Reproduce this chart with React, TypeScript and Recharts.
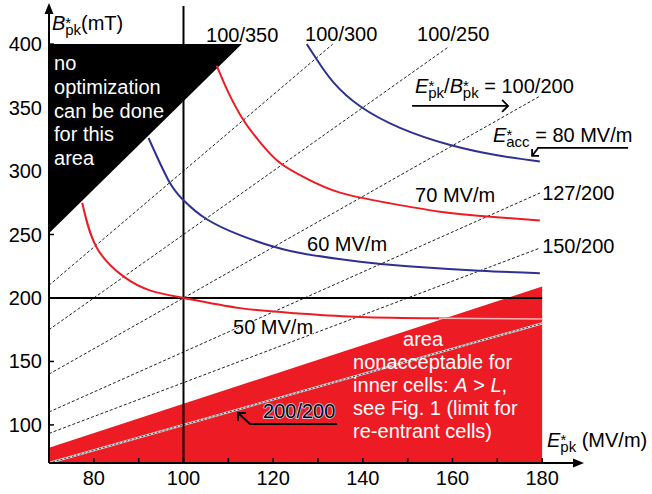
import React from 'react';
import { ComposedChart, XAxis, YAxis, Line, Area, ReferenceLine, ReferenceDot } from 'recharts';

const FONT = '"Liberation Sans", Arial, Helvetica, sans-serif';
const RED = '#ed1c24';
const BLUE = '#2e3192';

// axis ticks
const xTicks = [80, 90, 100, 110, 120, 130, 140, 150, 160, 170, 180];
const yTicks = [100, 150, 200, 250, 300, 350, 400];

// E*acc curves (x = E*pk in MV/m, y = B*pk in mT)
const curve50 = [
  { x: 77.4, y: 275 }, { x: 80.6, y: 240 }, { x: 86.6, y: 217 }, { x: 92.5, y: 206 },
  { x: 100, y: 200 }, { x: 112.6, y: 192 }, { x: 125, y: 188 }, { x: 139.4, y: 185 },
  { x: 157, y: 184 }, { x: 180, y: 183.4 },
];
const curve60 = [
  { x: 92.2, y: 326 }, { x: 96.6, y: 293 }, { x: 100, y: 277 }, { x: 105.2, y: 262 },
  { x: 112.6, y: 249.5 }, { x: 120, y: 240.5 }, { x: 127.5, y: 234.5 }, { x: 139.4, y: 228.6 },
  { x: 150, y: 225 }, { x: 166, y: 221.5 }, { x: 179.5, y: 219.5 },
];
const curve70 = [
  { x: 107.4, y: 383 }, { x: 110, y: 362 }, { x: 113.4, y: 340 }, { x: 117, y: 323 },
  { x: 121.5, y: 306.5 }, { x: 127.5, y: 294 }, { x: 134.9, y: 283 }, { x: 146, y: 274.6 },
  { x: 157.2, y: 268 }, { x: 168.4, y: 264 }, { x: 179.5, y: 261 },
];
const curve80 = [
  { x: 127.5, y: 400 }, { x: 129.7, y: 388 }, { x: 133.4, y: 370 }, { x: 139.4, y: 351 },
  { x: 148.3, y: 334 }, { x: 159.5, y: 320.5 }, { x: 170.6, y: 312 }, { x: 179.5, y: 307.5 },
];

// E*pk / B*pk ratio lines
const ratio100_300 = [{ x: 70, y: 210 }, { x: 133.3, y: 400 }];
const ratio100_250 = [{ x: 70, y: 175 }, { x: 159, y: 397.5 }];
const ratio100_200 = [{ x: 70, y: 140 }, { x: 179.5, y: 359 }];
const ratio127_200 = [{ x: 70, y: 110.2 }, { x: 179.5, y: 282.7 }];
const ratio150_200 = [{ x: 70, y: 93.3 }, { x: 179.5, y: 239.3 }];
const ratio200_200 = [{ x: 70, y: 70 }, { x: 180, y: 180 }];

// zones
const redZone = [{ x: 70, y: 82 }, { x: 180, y: 209 }];
const blackZone = [{ x: 70, y: [251, 400] }, { x: 113, y: [400, 400] }];

const txt = { fontFamily: FONT, fontSize: 20, fill: '#000', style: { whiteSpace: 'pre' as const } };

type Ann = { x: number; y: number; render: (cx: number, cy: number) => React.ReactElement };

const plain = (s: string, extra: any = {}) => (cx: number, cy: number) => (
  <text x={cx} y={cy} {...txt} {...extra}>{s}</text>
);

const annotations: Ann[] = [
  {
    x: 70.67, y: 411.1,
    render: (cx, cy) => (
      <text x={cx} y={cy} {...txt}>
        <tspan fontStyle="italic">B</tspan>
        <tspan fontSize={15} dy={-2}>*</tspan>
        <tspan fontSize={15} dx={-6} dy={7}>pk</tspan>
        <tspan dy={-5}>(mT)</tspan>
      </text>
    ),
  },
  {
    x: 71.12, y: 379.6,
    render: (cx, cy) => (
      <text x={cx} y={cy} {...txt} fill="#fff">
        {['no', 'optimization', 'can be done', 'for this', 'area'].map((l, i) => (
          <tspan key={i} x={cx} dy={i === 0 ? 0 : 23.8}>{l}</tspan>
        ))}
      </text>
    ),
  },
  { x: 105.03, y: 401.7, render: plain('100/350') },
  { x: 127.12, y: 402.1, render: plain('100/300') },
  { x: 152.11, y: 402.1, render: plain('100/250') },
  {
    x: 151.66, y: 361.5,
    render: (cx, cy) => (
      <g>
        <text x={cx} y={cy} {...txt}>
          <tspan fontStyle="italic">E</tspan>
          <tspan fontSize={15} dy={-2}>*</tspan>
          <tspan fontSize={15} dx={-6} dy={7}>pk</tspan>
          <tspan dy={-5}>/</tspan>
          <tspan fontStyle="italic">B</tspan>
          <tspan fontSize={15} dy={-2}>*</tspan>
          <tspan fontSize={15} dx={-6} dy={7}>pk</tspan>
          <tspan dy={-5}>{' = 100/200'}</tspan>
        </text>
        <path d={`M${cx - 3},${cy + 13} L${cx + 93},${cy + 13} M${cx + 87},${cy + 7} L${cx + 93},${cy + 13} L${cx + 87},${cy + 19}`}
          stroke="#000" strokeWidth={1.8} fill="none" />
      </g>
    ),
  },
  {
    x: 169.06, y: 322.9,
    render: (cx, cy) => (
      <g>
        <text x={cx} y={cy} {...txt}>
          <tspan fontStyle="italic">E</tspan>
          <tspan fontSize={15} dy={-2}>*</tspan>
          <tspan fontSize={15} dx={-6} dy={7}>acc</tspan>
          <tspan dy={-5}>{' = 80 MV/m'}</tspan>
        </text>
        <path d={`M${cx + 135},${cy + 6} L${cx + 45},${cy + 6} L${cx + 39},${cy + 14} M${cx + 39},${cy + 7} L${cx + 39},${cy + 14} L${cx + 46},${cy + 14}`}
          stroke="#000" strokeWidth={1.8} fill="none" />
      </g>
    ),
  },
  { x: 151.66, y: 275.6, render: plain('70 MV/m') },
  { x: 180.0, y: 277.2, render: plain('127/200') },
  { x: 127.56, y: 237.0, render: plain('60 MV/m') },
  { x: 180.0, y: 235.4, render: plain('150/200') },
  { x: 111.05, y: 171.6, render: plain('50 MV/m', { stroke: '#fff', strokeWidth: 1.5, paintOrder: 'stroke' }) },
  {
    x: 117.75, y: 105.45,
    render: (cx, cy) => (
      <g>
        <text x={cx} y={cy} {...txt} stroke="#cfe3ff" strokeWidth={1.5} paintOrder="stroke">200/200</text>
        <path d={`M${cx + 74},${cy + 6} L${cx - 13},${cy + 6} L${cx - 25},${cy - 5} M${cx - 25},${cy + 3} L${cx - 25},${cy - 5} L${cx - 17},${cy - 5}`}
          stroke="#000" strokeWidth={1.8} fill="none" />
      </g>
    ),
  },
  { x: 148.98, y: 162.2, render: plain('area', { fill: '#fff' }) },
  {
    x: 137.83, y: 144.05,
    render: (cx, cy) => (
      <text x={cx} y={cy} {...txt} fill="#fff">
        <tspan x={cx} dy={0}>nonacceptable for</tspan>
        <tspan x={cx} dy={23}>{'inner cells: '}</tspan>
        <tspan fontStyle="italic">A</tspan>
        <tspan>{' > '}</tspan>
        <tspan fontStyle="italic">L</tspan>
        <tspan>,</tspan>
        <tspan x={cx} dy={23}>see Fig. 1 (limit for</tspan>
        <tspan x={cx} dy={23}>re-entrant cells)</tspan>
      </text>
    ),
  },
  {
    x: 181.11, y: 82.6,
    render: (cx, cy) => (
      <text x={cx} y={cy} {...txt}>
        <tspan fontStyle="italic">E</tspan>
        <tspan fontSize={15} dy={-2}>*</tspan>
        <tspan fontSize={15} dx={-6} dy={7}>pk</tspan>
        <tspan dy={-5}>{' (MV/m)'}</tspan>
      </text>
    ),
  },
];

const XTick = (props: any) => {
  const { x, y, payload } = props;
  const v = payload.value;
  return (
    <g>
      <line x1={x} x2={x} y1={y} y2={y - 5} stroke="#000" strokeWidth={1.5} />
      {v % 20 === 0 && (
        <text x={x} y={y + 22} textAnchor="middle" fontFamily={FONT} fontSize={20} fill="#000">{v}</text>
      )}
    </g>
  );
};

const YTick = (props: any) => {
  const { x, y, payload } = props;
  return (
    <g>
      <line x1={x} x2={x + 5} y1={y} y2={y} stroke="#000" strokeWidth={1.5} />
      <text x={x - 7} y={y + 7} textAnchor="end" fontFamily={FONT} fontSize={20} fill="#000">{payload.value}</text>
    </g>
  );
};

const dashed = { stroke: '#222', strokeWidth: 1, strokeDasharray: '3 2', dot: false, isAnimationActive: false, type: 'linear' as const, dataKey: 'y', activeDot: false };
const curve = { strokeWidth: 2, dot: false, isAnimationActive: false, type: 'natural' as const, dataKey: 'y', activeDot: false };

export default function App() {
  return (
    <div style={{ position: 'absolute', left: 0, top: 0, width: 652, height: 494, background: '#fff' }}>
      <ComposedChart width={652} height={494} margin={{ top: 6, right: 74, bottom: 0, left: 0 }}>
        <XAxis type="number" dataKey="x" domain={[70, 188]} allowDataOverflow ticks={xTicks} interval={0}
          height={31} tickLine={false} tickSize={0} tickMargin={0} tick={<XTick />}
          axisLine={{ stroke: '#000', strokeWidth: 2 }} />
        <YAxis type="number" domain={[70, 430]} allowDataOverflow ticks={yTicks} interval={0}
          width={49} tickLine={false} tickSize={0} tickMargin={0} tick={<YTick />}
          axisLine={{ stroke: '#000', strokeWidth: 2 }} />

        <Area data={redZone} dataKey="y" type="linear" baseValue={70} fill={RED} fillOpacity={1} stroke="none" isAnimationActive={false} activeDot={false} />
        <Area data={blackZone} dataKey="y" type="linear" fill="#000" fillOpacity={1} stroke="none" isAnimationActive={false} activeDot={false} />

        <Line data={ratio100_300} {...dashed} />
        <Line data={ratio100_250} {...dashed} />
        <Line data={ratio100_200} {...dashed} />
        <Line data={ratio127_200} {...dashed} />
        <Line data={ratio150_200} {...dashed} />
        <Line data={ratio200_200} {...dashed} stroke="#d8d8d8" strokeWidth={2.2} strokeDasharray="" />
        <Line data={ratio200_200} {...dashed} stroke="#444" strokeDasharray="2 2" />

        <ReferenceLine x={100} stroke="#000" strokeWidth={2} />
        <ReferenceLine segment={[{ x: 70, y: 200 }, { x: 180, y: 200 }]} stroke="#000" strokeWidth={2} />

        <Line data={curve50} {...curve} stroke={RED} />
        <Line data={curve50.filter((p) => p.x >= 157)} {...curve} stroke="#f6b4b4" strokeWidth={1.5} />
        <Line data={curve60} {...curve} stroke={BLUE} />
        <Line data={curve70} {...curve} stroke={RED} />
        <Line data={curve80} {...curve} stroke={BLUE} />

        <ReferenceDot x={188} y={70} r={0} ifOverflow="visible"
          shape={(p: any) => <path d={`M${p.cx + 6},${p.cy} L${p.cx - 5},${p.cy - 4.5} L${p.cx - 5},${p.cy + 4.5} Z`} fill="#000" />} />
        <ReferenceDot x={70} y={430} r={0} ifOverflow="visible"
          shape={(p: any) => <path d={`M${p.cx},${p.cy - 3} L${p.cx - 4.5},${p.cy + 8} L${p.cx + 4.5},${p.cy + 8} Z`} fill="#000" />} />

        {annotations.map((a, i) => (
          <ReferenceDot key={i} x={a.x} y={a.y} r={0} ifOverflow="visible"
            shape={(p: any) => a.render(p.cx, p.cy)} />
        ))}
      </ComposedChart>
    </div>
  );
}
